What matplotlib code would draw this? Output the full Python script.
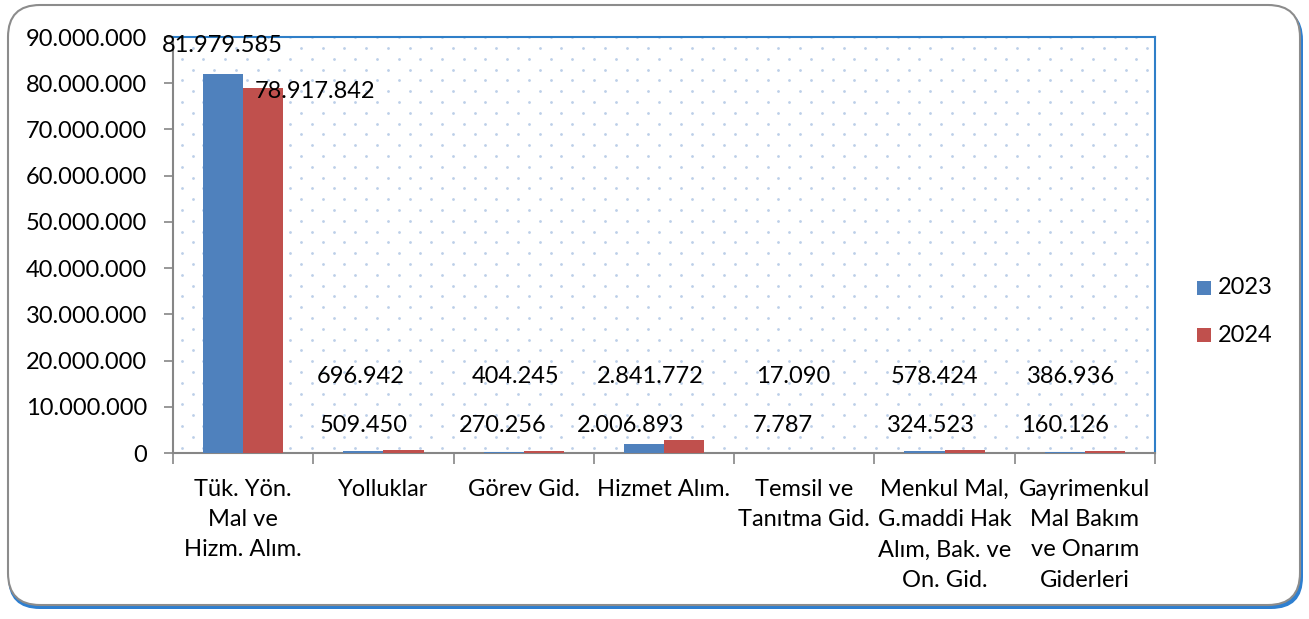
import matplotlib
matplotlib.use("Agg")
import matplotlib.pyplot as plt
from matplotlib.patches import FancyBboxPatch
from matplotlib.ticker import FuncFormatter, FixedLocator
import matplotlib.transforms as mtransforms
import numpy as np

categories = ["Tük. Yön.\nMal ve\nHizm. Alım.", "Yolluklar", "Görev Gid.", "Hizmet Alım.",
              "Temsil ve\nTanıtma Gid.", "Menkul Mal,\nG.maddi Hak\nAlım, Bak. ve\nOn. Gid.",
              "Gayrimenkul\nMal Bakım\nve Onarım\nGiderleri"]
series_names = ["2023", "2024"]
values_2023 = [81979585, 509450, 270256, 2006893, 7787, 324523, 160126]
values_2024 = [78917842, 696942, 404245, 2841772, 17090, 578424, 386936]
yticks = [0, 10000000, 20000000, 30000000, 40000000, 50000000, 60000000, 70000000, 80000000, 90000000]

def fmt(v):
    return f"{int(v):,}".replace(",", ".")

plt.rcParams['font.family'] = ['Lato', 'DejaVu Sans']
FS = 17
W, H = 1309, 619
fig = plt.figure(figsize=(W/100, H/100), dpi=100)

# background axes in pixel coordinates for the rounded frame
bg = fig.add_axes([0, 0, 1, 1], zorder=-5)
bg.set_xlim(0, W)
bg.set_ylim(H, 0)
bg.axis("off")
bg.add_patch(FancyBboxPatch((8, 8), 1295, 601, boxstyle="round,pad=0,rounding_size=32",
                            facecolor="#2e7fd0", edgecolor="none"))
bg.add_patch(FancyBboxPatch((8, 5), 1292, 600, boxstyle="round,pad=0,rounding_size=32",
                            facecolor="white", edgecolor="#8c8c8c", linewidth=1.5))

ax = fig.add_axes([173/W, 1 - 453/H, (1155-173)/W, (453-37)/H])
ax.set_facecolor("none")
n = len(categories)
x = np.arange(n)
bw = 0.286
ax.bar(x - bw/2, values_2023, bw, color="#4f81bd", label=series_names[0], zorder=3)
ax.bar(x + bw/2, values_2024, bw, color="#c0504d", label=series_names[1], zorder=3)
ax.set_xlim(-0.5, n - 0.5)
ax.set_ylim(0, 90000000)

# dotted background pattern
dx, dy = 21.7 / (1155-173) * n, 10.8 / 416 * 90000000
pts = []
row = 0
yy = dy * 0.5
while yy < 90000000:
    off = (dx/2) if row % 2 else 0
    xx = -0.5 + dx*0.4 + off
    while xx < n - 0.5:
        pts.append((xx, yy))
        xx += dx
    yy += dy
    row += 1
pts = np.array(pts)
ax.scatter(pts[:, 0], pts[:, 1], s=4, color="#bccfe8", linewidths=0, zorder=1)

ax.yaxis.set_major_locator(FixedLocator(yticks))
ax.yaxis.set_major_formatter(FuncFormatter(lambda v, p: fmt(v)))
ax.tick_params(axis='y', labelsize=FS, length=6.5, color="#868686", width=1.2, pad=12)
ax.set_xticks(np.arange(n + 1) - 0.5)
ax.set_xticklabels([])
ax.tick_params(axis='x', length=8, color="#868686", width=1.2)
for sp in ["left", "bottom"]:
    ax.spines[sp].set_color("#868686")
    ax.spines[sp].set_linewidth(1.5)
for sp in ["top", "right"]:
    ax.spines[sp].set_color("#2f7fc8")
    ax.spines[sp].set_linewidth(1.5)

for i, c in enumerate(categories):
    ax.text(i, -0.062, c, transform=mtransforms.blended_transform_factory(ax.transData, ax.transAxes),
            ha="center", va="top", fontsize=FS, linespacing=1.55)

# data labels
tr = mtransforms.blended_transform_factory(ax.transData, ax.transAxes)
ax.text(-0.15, 0.98, fmt(values_2023[0]), transform=tr, ha="center", va="center", fontsize=FS, zorder=5)
ax.text(0.51, 0.87, fmt(values_2024[0]), transform=tr, ha="center", va="center", fontsize=FS, zorder=5)
offs_24 = [None, -0.16, -0.06, -0.1, -0.08, -0.07, -0.1]
offs_23 = [None, -0.14, -0.15, -0.24, -0.15, -0.1, -0.14]
for i in range(1, n):
    ax.text(i + offs_24[i], 0.185, fmt(values_2024[i]), transform=tr, ha="center", va="center", fontsize=FS, zorder=5)
    ax.text(i + offs_23[i], 0.067, fmt(values_2023[i]), transform=tr, ha="center", va="center", fontsize=FS, zorder=5)

# legend
for yp, name, col in [(288, series_names[0], "#4f81bd"), (335, series_names[1], "#c0504d")]:
    fig.patches.append(plt.Rectangle((1197/W, 1 - (yp+7)/H), 14/W, 14/H, transform=fig.transFigure,
                                     facecolor=col, edgecolor="none"))
    fig.text(1218/W, 1 - yp/H, name, fontsize=FS, va="center", ha="left")

fig.savefig("out.png", dpi=100)
